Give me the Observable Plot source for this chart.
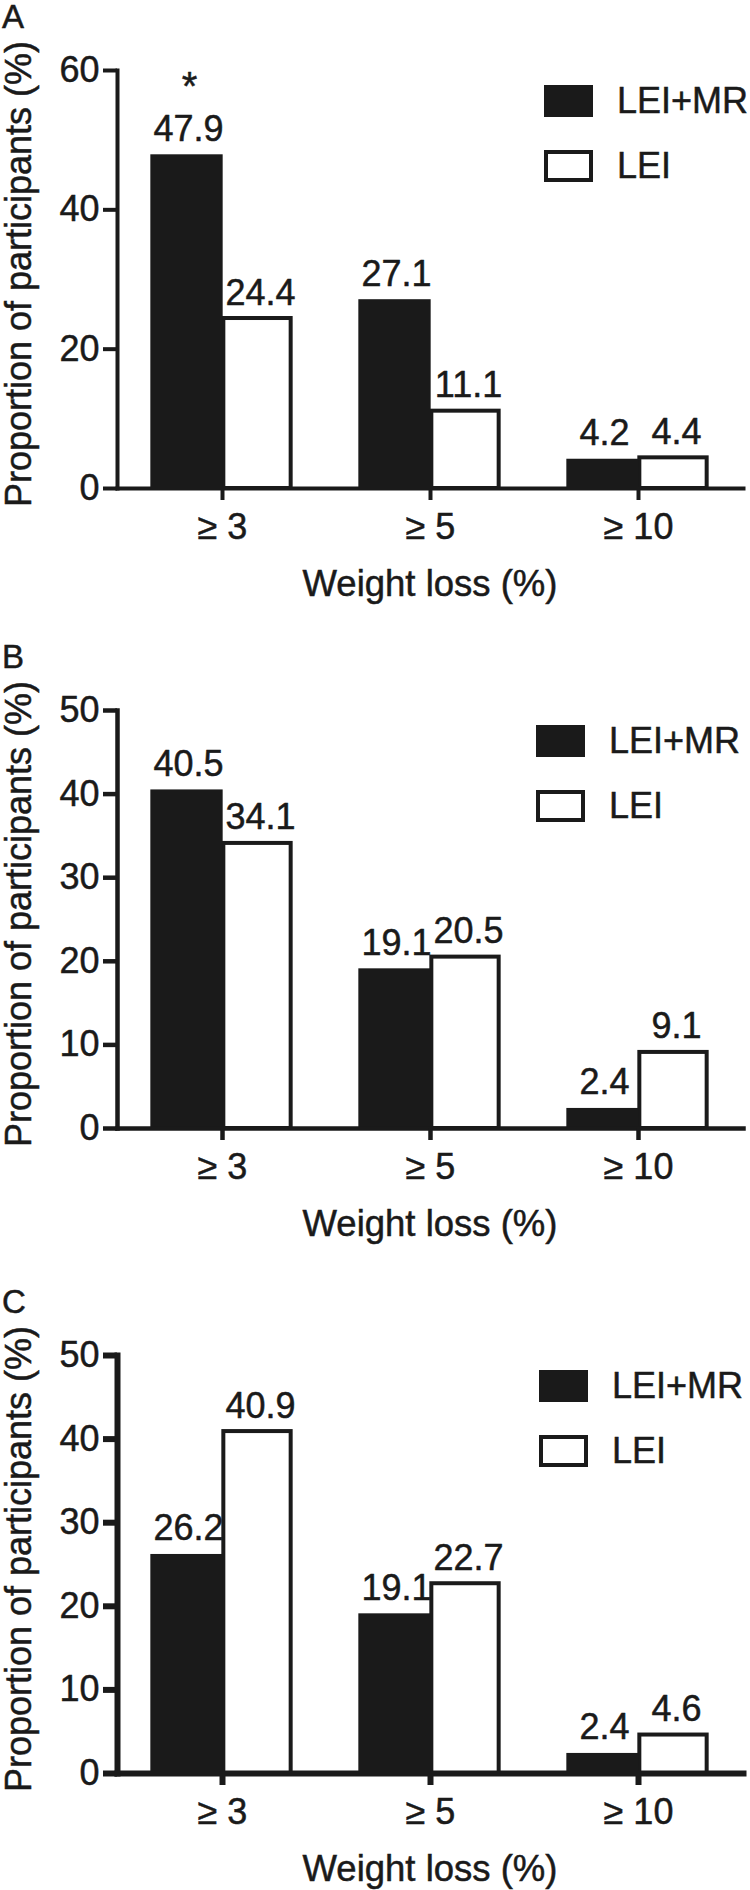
<!DOCTYPE html>
<html>
<head>
<meta charset="utf-8">
<script src="https://cdn.jsdelivr.net/npm/d3@7"></script>
<script src="https://cdn.jsdelivr.net/npm/@observablehq/plot@0.6"></script>
<style>
  html, body { margin: 0; padding: 0; background: #fff; }
  body { font-family: "Liberation Sans", Arial, Helvetica, sans-serif; color: #1a1a1a; }
  #root { position: relative; width: 750px; height: 1890px; overflow: hidden; background: #fff; }
  .panel { position: absolute; left: 0; width: 750px; }
  .panel svg { position: absolute; left: 0; top: 0; }
  .panel svg text { paint-order: stroke; }
  .letter { position: absolute; left: 2px; top: 0px; font-size: 33px; line-height: 1; -webkit-text-stroke: 0.5px #1a1a1a; }
  .ylab { position: absolute; left: 19px; top: 274px; font-size: 36px; line-height: 1; white-space: nowrap;
          transform: translate(-50%, -50%) rotate(-90deg); -webkit-text-stroke: 0.5px #1a1a1a; }
  .xlab { position: absolute; left: 430px; top: 566px; font-size: 36.5px; line-height: 1; white-space: nowrap;
          transform: translateX(-50%); -webkit-text-stroke: 0.5px #1a1a1a; }
  .sw { position: absolute; width: 49px; height: 32px; box-sizing: border-box; }
  .sw.fill { background: #1a1a1a; }
  .sw.open { background: #fff; border: 4px solid #1a1a1a; }
  .lt { position: absolute; font-size: 36px; line-height: 1; white-space: nowrap; -webkit-text-stroke: 0.5px #1a1a1a; }
</style>
</head>
<body>
<div id="root"></div>
<script>
// ---------- data ----------
const categories = ["≥ 3", "≥ 5", "≥ 10"];
const series = ["LEI+MR", "LEI"];
const panelLetters = ["A", "B", "C"];

const lemrA = [47.9, 27.1, 4.2];
const leiA  = [24.4, 11.1, 4.4];
const lemrB = [40.5, 19.1, 2.4];
const leiB  = [34.1, 20.5, 9.1];
const lemrC = [26.2, 19.1, 2.4];
const leiC  = [40.9, 22.7, 4.6];

const sigA = ["*", "", ""];     // significance marks above LEI+MR bars (panel A)
const sigB = ["", "", ""];
const sigC = ["", "", ""];

const yTicksA = [0, 20, 40, 60];
const yTicksB = [0, 10, 20, 30, 40, 50];
const yTicksC = [0, 10, 20, 30, 40, 50];
const yMaxA = 60, yMaxB = 50, yMaxC = 50;

const yLabel = "Proportion of participants (%)";
const xLabel = "Weight loss (%)";

// ---------- layout ----------
const panels = [
  {letter: panelLetters[0], mr: lemrA, lei: leiA, sig: sigA, ticks: yTicksA, yMax: yMaxA, top: 0,    height: 640, axisW: 4, legX: 544},
  {letter: panelLetters[1], mr: lemrB, lei: leiB, sig: sigB, ticks: yTicksB, yMax: yMaxB, top: 640,  height: 645, axisW: 4.5, legX: 536},
  {letter: panelLetters[2], mr: lemrC, lei: leiC, sig: sigC, ticks: yTicksC, yMax: yMaxC, top: 1285, height: 605, axisW: 6, legX: 539}
];

const INK = "#1a1a1a";
const W = 750, ML = 117, MR = 7, MT = 70, ZERO = 488;
const half = (W - ML - MR) / categories.length / 2;   // half band width
const FONT = "Liberation Sans, Arial, Helvetica, sans-serif";
const TXT = {fill: INK, stroke: INK, strokeWidth: 0.5};

const root = document.getElementById("root");

function makePanel(p) {
  const rows = categories.map((c, i) => ({cat: c, mr: p.mr[i], lei: p.lei[i], sig: p.sig[i]}));
  const svg = Plot.plot({
    width: W,
    height: p.height,
    marginLeft: ML,
    marginRight: MR,
    marginTop: MT,
    marginBottom: p.height - ZERO,
    style: {fontFamily: FONT, color: INK, background: "transparent", overflow: "visible"},
    x: {domain: categories, padding: 0, axis: null},
    y: {domain: [0, p.yMax], axis: null},
    marks: [
      Plot.barY(rows, {x: "cat", y: "lei", fill: "#fff", stroke: INK, strokeWidth: 4,
                       insetLeft: half + 1, insetRight: half - 69}),
      Plot.barY(rows, {x: "cat", y: "mr", fill: INK, insetLeft: half - 72, insetRight: half - 1}),
      Plot.frame({anchor: "left", stroke: INK, strokeWidth: p.axisW, strokeLinecap: "square"}),
      Plot.frame({anchor: "bottom", stroke: INK, strokeWidth: p.axisW, strokeLinecap: "square"}),
      Plot.axisY(p.ticks, {tickSize: 14, tickPadding: 4, stroke: INK, strokeWidth: p.axisW, fill: INK,
                           fontSize: 36, label: null, tickFormat: d => String(d)}),
      Plot.axisX({tickSize: 12, tickPadding: 13, stroke: INK, strokeWidth: p.axisW, fill: INK,
                  fontSize: 36, label: null}),
      Plot.text(rows, {x: "cat", y: "mr", text: d => d.mr.toFixed(1), dx: -34, dy: -14,
                       lineAnchor: "bottom", fontSize: 36, ...TXT}),
      Plot.text(rows, {x: "cat", y: "lei", text: d => d.lei.toFixed(1), dx: 38, dy: -14,
                       lineAnchor: "bottom", fontSize: 36, ...TXT}),
      Plot.text(rows.filter(d => d.sig), {x: "cat", y: "mr", text: "sig", dx: -33, dy: -55,
                       lineAnchor: "bottom", fontSize: 40, ...TXT})
    ]
  });

  // slightly heavier axis tick labels, like the reference
  svg.querySelectorAll('g[aria-label="y-axis tick label"] text, g[aria-label="x-axis tick label"] text')
     .forEach(t => { t.setAttribute("stroke", INK); t.setAttribute("stroke-width", "0.5"); });

  const div = document.createElement("div");
  div.className = "panel";
  div.style.top = p.top + "px";
  div.style.height = p.height + "px";
  div.appendChild(svg);

  const letter = document.createElement("div");
  letter.className = "letter";
  letter.textContent = p.letter;
  div.appendChild(letter);

  const yl = document.createElement("div");
  yl.className = "ylab";
  yl.textContent = yLabel;
  div.appendChild(yl);

  const xl = document.createElement("div");
  xl.className = "xlab";
  xl.textContent = xLabel;
  div.appendChild(xl);

  // legend
  const legRows = [{cls: "fill", top: 85}, {cls: "open", top: 150}];
  series.forEach((s, i) => {
    const sw = document.createElement("div");
    sw.className = "sw " + legRows[i].cls;
    sw.style.left = p.legX + "px";
    sw.style.top = legRows[i].top + "px";
    div.appendChild(sw);
    const t = document.createElement("div");
    t.className = "lt";
    t.textContent = s;
    t.style.left = (p.legX + 73) + "px";
    t.style.top = (legRows[i].top - 1.6) + "px";
    div.appendChild(t);
  });

  root.appendChild(div);
}

panels.forEach(makePanel);
</script>
</body>
</html>
